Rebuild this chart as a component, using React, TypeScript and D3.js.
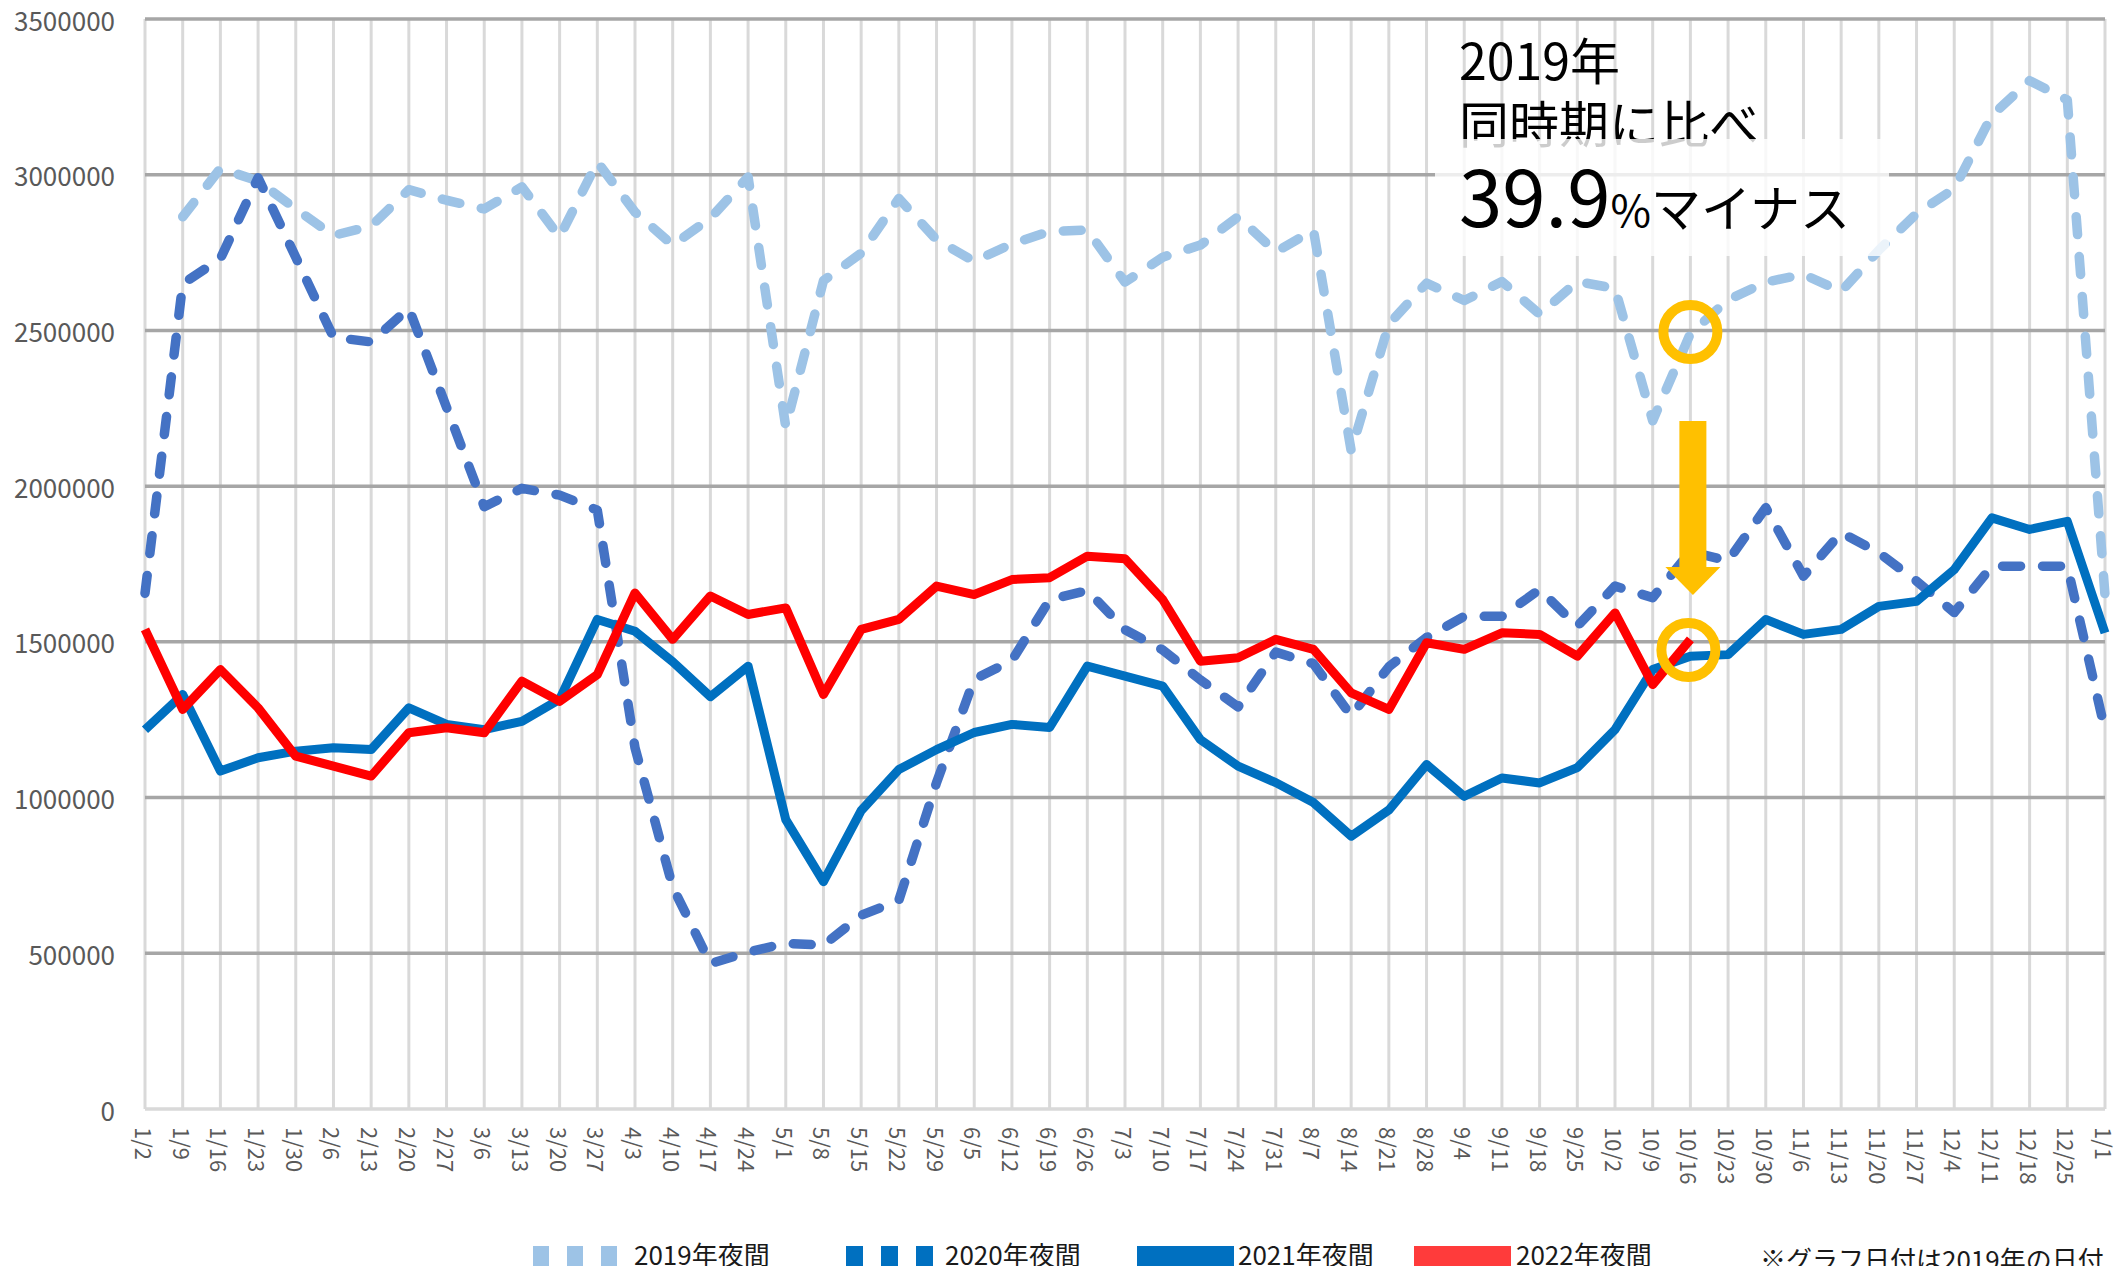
import React, { useEffect, useRef } from 'react'
import * as d3 from 'd3'

// week labels (dates of 2019)
const labels = [
  '1/2', '1/9', '1/16', '1/23', '1/30', '2/6', '2/13', '2/20', '2/27', '3/6', '3/13', '3/20', '3/27',
  '4/3', '4/10', '4/17', '4/24', '5/1', '5/8', '5/15', '5/22', '5/29', '6/5', '6/12', '6/19', '6/26',
  '7/3', '7/10', '7/17', '7/24', '7/31', '8/7', '8/14', '8/21', '8/28', '9/4', '9/11', '9/18', '9/25',
  '10/2', '10/9', '10/16', '10/23', '10/30', '11/6', '11/13', '11/20', '11/27', '12/4', '12/11', '12/18',
  '12/25', '1/1'
]

const night2019 = [
  null, 2865000, 3020000, 2980000, 2890000, 2805000, 2835000, 2952000, 2918000, 2890000, 2961000, 2800000, 3041000,
  2880000, 2774000, 2860000, 2993000, 2190000, 2660000, 2748000, 2924000, 2791000, 2722000, 2778000, 2818000, 2822000,
  2655000, 2735000, 2774000, 2865000, 2752000, 2822000, 2114000, 2520000, 2652000, 2596000, 2657000, 2552000, 2657000,
  2635000, 2210000, 2490000, 2598000, 2655000, 2680000, 2625000, 2758000, 2875000, 2955000, 3191000, 3302000,
  3240000, 1650000
]

const night2020 = [
  1656000, 2650000, 2730000, 2990000, 2735000, 2478000, 2463000, 2571000, 2253000, 1934000, 1993000, 1971000, 1923000,
  1160000, 713000, 467000, 504000, 532000, 526000, 622000, 670000, 1048000, 1380000, 1440000, 1635000, 1665000,
  1539000, 1474000, 1378000, 1291000, 1467000, 1430000, 1262000, 1420000, 1514000, 1582000, 1582000, 1668000, 1550000,
  1679000, 1642000, 1790000, 1760000, 1931000, 1711000, 1851000, 1786000, 1695000, 1594000, 1743000, 1743000,
  1743000, 1216000
]

const night2021 = [
  1218000, 1331000, 1085000, 1128000, 1149000, 1160000, 1154000, 1288000, 1235000, 1218000, 1245000, 1315000, 1572000,
  1534000, 1436000, 1324000, 1422000, 929000, 730000, 958000, 1090000, 1154000, 1209000, 1235000, 1225000, 1422000,
  1390000, 1358000, 1186000, 1101000, 1048000, 984000, 876000, 960000, 1106000, 1004000, 1063000, 1047000, 1096000,
  1218000, 1411000, 1454000, 1459000, 1572000, 1524000, 1540000, 1614000, 1630000, 1732000, 1898000, 1861000,
  1887000, 1529000
]

const night2022 = [
  1540000, 1283000, 1411000, 1288000, 1133000, 1101000, 1069000, 1208000, 1224000, 1208000, 1374000, 1309000, 1395000,
  1657000, 1508000, 1647000, 1588000, 1609000, 1331000, 1540000, 1572000, 1679000, 1652000, 1700000, 1706000, 1775000,
  1767000, 1636000, 1438000, 1449000, 1508000, 1476000, 1336000, 1283000, 1497000, 1476000, 1529000, 1524000, 1454000,
  1593000, 1363000, 1508000, null, null, null, null, null, null, null, null, null, null, null
]

const yTicks = [0, 500000, 1000000, 1500000, 2000000, 2500000, 3000000, 3500000]

const legendNames = ['2019年夜間', '2020年夜間', '2021年夜間', '2022年夜間']

const FONT = "'Noto Sans CJK JP', 'Noto Sans', sans-serif"

const App = () => {
  const ref = useRef(null)

  const width = 2123
  const height = 1266
  const left = 145, right = 2105, top = 19, bottom = 1109

  useEffect(() => {
    const svg = d3.select(ref.current)
    svg.selectAll('*').remove()

    const xScale = d3.scalePoint().domain(labels).range([left, right])
    const yScale = d3.scaleLinear().domain([0, 3500000]).range([bottom, top])

    // vertical grid
    svg.append('g')
      .selectAll('line')
      .data(labels)
      .join('line')
      .attr('x1', d => xScale(d))
      .attr('x2', d => xScale(d))
      .attr('y1', top)
      .attr('y2', bottom)
      .attr('stroke', '#d9d9d9')
      .attr('stroke-width', 3)

    // horizontal grid
    svg.append('g')
      .selectAll('line')
      .data(yTicks.filter(t => t > 0))
      .join('line')
      .attr('x1', left)
      .attr('x2', right)
      .attr('y1', d => yScale(d))
      .attr('y2', d => yScale(d))
      .attr('stroke', '#a6a6a6')
      .attr('stroke-width', 3.5)

    svg.append('line')
      .attr('x1', left).attr('x2', right)
      .attr('y1', bottom).attr('y2', bottom)
      .attr('stroke', '#d9d9d9')
      .attr('stroke-width', 3.5)

    // y labels
    svg.append('g')
      .selectAll('text')
      .data(yTicks)
      .join('text')
      .attr('x', 115)
      .attr('y', d => yScale(d))
      .attr('text-anchor', 'end')
      .attr('dominant-baseline', 'central')
      .attr('font-family', FONT)
      .attr('font-size', 26)
      .attr('fill', '#595959')
      .text(d => d)

    // x labels
    svg.append('g')
      .selectAll('text')
      .data(labels)
      .join('text')
      .attr('transform', d => 'translate(' + xScale(d) + ',1127) rotate(90)')
      .attr('text-anchor', 'start')
      .attr('dominant-baseline', 'central')
      .attr('font-family', FONT)
      .attr('font-size', 22)
      .attr('fill', '#595959')
      .text(d => d)

    const line = d3.line()
      .defined(d => d != null)
      .x((d, i) => xScale(labels[i]))
      .y(d => yScale(d))

    const series = [
      { values: night2019, color: '#9dc3e6', dash: '18 22' },
      { values: night2020, color: '#4472c4', dash: '18 22' },
      { values: night2021, color: '#0070c0', dash: null },
      { values: night2022, color: '#ff0000', dash: null },
    ]

    series.forEach(s => {
      svg.append('path')
        .datum(s.values)
        .attr('d', line)
        .attr('fill', 'none')
        .attr('stroke', s.color)
        .attr('stroke-width', s.dash ? 9.5 : 9)
        .attr('stroke-linejoin', 'round')
        .attr('stroke-linecap', s.dash ? 'round' : 'butt')
        .attr('stroke-dasharray', s.dash)
    })

    // annotation
    const note = svg.append('g').attr('font-family', FONT).attr('fill', '#000')
    note.append('text').attr('x', 1459).attr('y', 80).attr('font-size', 50).text('2019年')
    note.append('text').attr('x', 1459).attr('y', 143).attr('font-size', 50).text('同時期に比べ')
    note.append('rect')
      .attr('x', 1435).attr('y', 139).attr('width', 454).attr('height', 117)
      .attr('fill', '#fff').attr('opacity', 0.8)
    const big = note.append('text').attr('x', 1459).attr('y', 227)
    big.append('tspan').attr('font-size', 78).text('39.9')
    big.append('tspan').attr('font-size', 44).text('%')
    big.append('tspan').attr('font-size', 50).text('マイナス')

    // yellow marks
    const cx = xScale('10/16')
    svg.append('circle')
      .attr('cx', cx).attr('cy', 332).attr('r', 27)
      .attr('fill', 'none').attr('stroke', '#ffc000').attr('stroke-width', 10)
    svg.append('circle')
      .attr('cx', cx - 2).attr('cy', 650).attr('r', 27)
      .attr('fill', 'none').attr('stroke', '#ffc000').attr('stroke-width', 10)
    svg.append('rect')
      .attr('x', cx - 11).attr('y', 421).attr('width', 27).attr('height', 147)
      .attr('fill', '#ffc000')
    svg.append('path')
      .attr('d', 'M' + (cx - 25) + ',567 L' + (cx + 30) + ',567 L' + (cx + 2.5) + ',595 Z')
      .attr('fill', '#ffc000')

    // legend
    const lg = svg.append('g')
    const ly = 1256
    lg.append('line').attr('x1', 533).attr('x2', 620).attr('y1', ly).attr('y2', ly)
      .attr('stroke', '#9dc3e6').attr('stroke-width', 20).attr('stroke-dasharray', '16 18')
    lg.append('line').attr('x1', 846).attr('x2', 935).attr('y1', ly).attr('y2', ly)
      .attr('stroke', '#0070c0').attr('stroke-width', 20).attr('stroke-dasharray', '17 18')
    lg.append('rect').attr('x', 1137).attr('y', ly - 10).attr('width', 97).attr('height', 20).attr('fill', '#0070c0')
    lg.append('rect').attr('x', 1414).attr('y', ly - 10).attr('width', 97).attr('height', 20).attr('fill', '#ff3b3b')

    const textX = [634, 945, 1238, 1516]
    lg.selectAll('text.name')
      .data(legendNames)
      .join('text')
      .attr('class', 'name')
      .attr('x', (d, i) => textX[i])
      .attr('y', 1265)
      .attr('font-family', FONT)
      .attr('font-size', 26)
      .attr('fill', '#1a1a1a')
      .text(d => d)

    lg.append('text')
      .attr('x', 1760).attr('y', 1270)
      .attr('font-family', FONT).attr('font-size', 26).attr('fill', '#1a1a1a')
      .text('※グラフ日付は2019年の日付')
  }, [])

  return (
    <div style={{ position: 'absolute', left: 0, top: 0 }}>
      <svg ref={ref} width={width} height={height} style={{ display: 'block', background: '#fff' }}></svg>
    </div>
  )
}

export default App
